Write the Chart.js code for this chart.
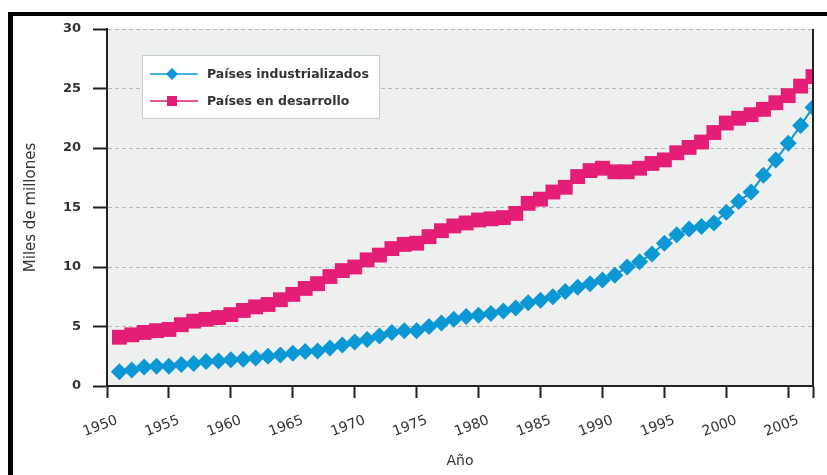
<!DOCTYPE html>
<html>
<head>
<meta charset="utf-8">
<script src="https://cdn.jsdelivr.net/npm/chart.js@4.4.0/dist/chart.umd.min.js"></script>
<style>
  html, body { margin: 0; padding: 0; background: #fff; }
  #marco { position: absolute; left: 8px; top: 12px; width: 819px; height: 463px; box-sizing: border-box; border-top: 4px solid #000; border-left: 5px solid #000; }
  #contenedor { position: absolute; left: 0; top: 0; width: 827px; height: 475px; }
</style>
</head>
<body>
<div id="marco"></div>
<div id="contenedor"><canvas id="chartPaises"></canvas></div>
<script>
const anios = [
  1951, 1952, 1953, 1954, 1955, 1956, 1957, 1958, 1959, 1960,
  1961, 1962, 1963, 1964, 1965, 1966, 1967, 1968, 1969, 1970,
  1971, 1972, 1973, 1974, 1975, 1976, 1977, 1978, 1979, 1980,
  1981, 1982, 1983, 1984, 1985, 1986, 1987, 1988, 1989, 1990,
  1991, 1992, 1993, 1994, 1995, 1996, 1997, 1998, 1999, 2000,
  2001, 2002, 2003, 2004, 2005, 2006, 2007
]

const industrializados = [
  1.2, 1.35, 1.6, 1.65, 1.65, 1.8, 1.9, 2.05, 2.1, 2.2,
  2.25, 2.35, 2.5, 2.6, 2.75, 2.9, 2.95, 3.2, 3.45, 3.7,
  3.9, 4.2, 4.5, 4.65, 4.65, 5.0, 5.3, 5.6, 5.85, 5.95,
  6.1, 6.3, 6.55, 7.0, 7.2, 7.5, 7.95, 8.3, 8.6, 8.9,
  9.3, 10.0, 10.45, 11.1, 12.0, 12.7, 13.2, 13.4, 13.7, 14.6,
  15.5, 16.3, 17.7, 19.0, 20.4, 21.9, 23.4
]

const enDesarrollo = [
  4.1, 4.3, 4.5, 4.65, 4.75, 5.15, 5.45, 5.6, 5.75, 6.0,
  6.35, 6.65, 6.85, 7.25, 7.7, 8.2, 8.6, 9.2, 9.7, 10.0,
  10.6, 11.0, 11.55, 11.9, 12.0, 12.55, 13.05, 13.45, 13.7, 13.95,
  14.05, 14.15, 14.5, 15.35, 15.7, 16.3, 16.7, 17.6, 18.1, 18.3,
  18.0, 18.0, 18.3, 18.7, 19.0, 19.6, 20.05, 20.5, 21.3, 22.1,
  22.5, 22.8, 23.25, 23.8, 24.4, 25.2, 26.0
]

const ticksAnio = [1950, 1955, 1960, 1965, 1970, 1975, 1980, 1985, 1990, 1995, 2000, 2005, 2007]

const azul = "#0b98d4"
const rosa = "#e41d76"
const fuente = "DejaVu Sans"

// fondo gris del area y borde derecho
const fondoPlot = {
  id: "fondoPlot",
  beforeDraw(chart) {
    const { ctx, chartArea: a } = chart
    ctx.save()
    ctx.fillStyle = "#edf0ef"
    ctx.fillRect(a.left, a.top, a.right - a.left, a.bottom - a.top)
    ctx.restore()
  },
  afterDraw(chart) {
    const { ctx, chartArea: a } = chart
    ctx.save()
    ctx.strokeStyle = "#222"
    ctx.lineWidth = 2
    ctx.beginPath()
    ctx.moveTo(a.right, a.top)
    ctx.lineTo(a.right, a.bottom)
    ctx.stroke()
    ctx.restore()
  }
}

// leyenda dentro del area del grafico
const leyenda = {
  id: "leyenda",
  afterDraw(chart) {
    const { ctx, chartArea: a } = chart
    const x0 = a.left + 35, y0 = a.top + 26, w = 237, h = 63
    ctx.save()
    ctx.fillStyle = "#fff"
    ctx.fillRect(x0, y0, w, h)
    ctx.strokeStyle = "#c9cccc"
    ctx.lineWidth = 1
    ctx.strokeRect(x0 + 0.5, y0 + 0.5, w, h)
    chart.data.datasets.forEach((ds, i) => {
      const y = y0 + 19 + i * 27
      const cx = x0 + 30
      ctx.strokeStyle = ds.borderColor
      ctx.lineWidth = 1.5
      ctx.beginPath()
      ctx.moveTo(x0 + 8, y)
      ctx.lineTo(x0 + 56, y)
      ctx.stroke()
      ctx.fillStyle = ds.backgroundColor
      ctx.beginPath()
      if (ds.pointStyle === "rectRot") {
        ctx.moveTo(cx - 6, y)
        ctx.lineTo(cx, y - 6)
        ctx.lineTo(cx + 6, y)
        ctx.lineTo(cx, y + 6)
        ctx.closePath()
      } else {
        ctx.rect(cx - 5, y - 5, 10, 10)
      }
      ctx.fill()
      ctx.fillStyle = "#333"
      ctx.font = "bold 12.5px '" + fuente + "'"
      ctx.textBaseline = "middle"
      ctx.fillText(ds.label, x0 + 65, y + 1)
    })
    ctx.restore()
  }
}

const ctx = document.getElementById("chartPaises").getContext("2d")
const myChart = new Chart(ctx, {
  type: "line",
  data: {
    datasets: [
      {
        label: "Países industrializados",
        data: anios.map((a, i) => ({ x: a, y: industrializados[i] })),
        borderColor: azul,
        backgroundColor: azul,
        borderWidth: 2,
        pointStyle: "rectRot",
        pointRadius: 8.5,
        pointHoverRadius: 8.5,
        pointBorderWidth: 0,
        clip: 0,
      },
      {
        label: "Países en desarrollo",
        data: anios.map((a, i) => ({ x: a, y: enDesarrollo[i] })),
        borderColor: rosa,
        backgroundColor: rosa,
        borderWidth: 2,
        pointStyle: "rect",
        pointRadius: 10.5,
        pointHoverRadius: 10.5,
        pointBorderWidth: 0,
        clip: 0,
      },
    ],
  },
  options: {
    responsive: true,
    maintainAspectRatio: false,
    animation: false,
    layout: { padding: { top: 29, right: 14, left: 0, bottom: 0 } },
    plugins: {
      legend: { display: false },
      tooltip: { enabled: false },
    },
    scales: {
      x: {
        type: "linear",
        min: 1950,
        max: 2007,
        afterBuildTicks: (s) => { s.ticks = ticksAnio.map((v) => ({ value: v })) },
        afterFit: (s) => {
          s.height = 89
          s.paddingLeft = 0
          s.paddingRight = 0
        },
        ticks: {
          autoSkip: false,
          minRotation: 21,
          maxRotation: 21,
          padding: 14,
          labelOffset: 10,
          color: "#333",
          font: { family: fuente, size: 14 },
          callback: (v) => (v % 5 === 0 ? String(v) : ""),
        },
        grid: { drawOnChartArea: false, drawTicks: true, tickLength: 12, tickColor: "#222", tickWidth: 2 },
        border: { display: true, color: "#222", width: 2 },
        title: {
          display: true,
          text: "Año",
          color: "#333",
          font: { family: fuente, size: 14 },
          padding: { top: 0, bottom: 5 },
        },
      },
      y: {
        min: 0,
        max: 30,
        afterFit: (s) => { s.width = 107 },
        ticks: {
          stepSize: 5,
          padding: 12,
          color: "#333",
          font: { family: fuente, size: 13, weight: "bold" },
        },
        grid: { color: "#b5b9b8", lineWidth: 1, tickColor: "#222", tickWidth: 2, tickLength: 14 },
        border: { display: true, color: "#222", width: 2, dash: [4, 3] },
        title: {
          display: true,
          text: "Miles de millones",
          color: "#333",
          font: { family: fuente, size: 15 },
          padding: { top: 22, bottom: 0 },
        },
      },
    },
  },
  plugins: [fondoPlot, leyenda],
})
</script>
</body>
</html>
